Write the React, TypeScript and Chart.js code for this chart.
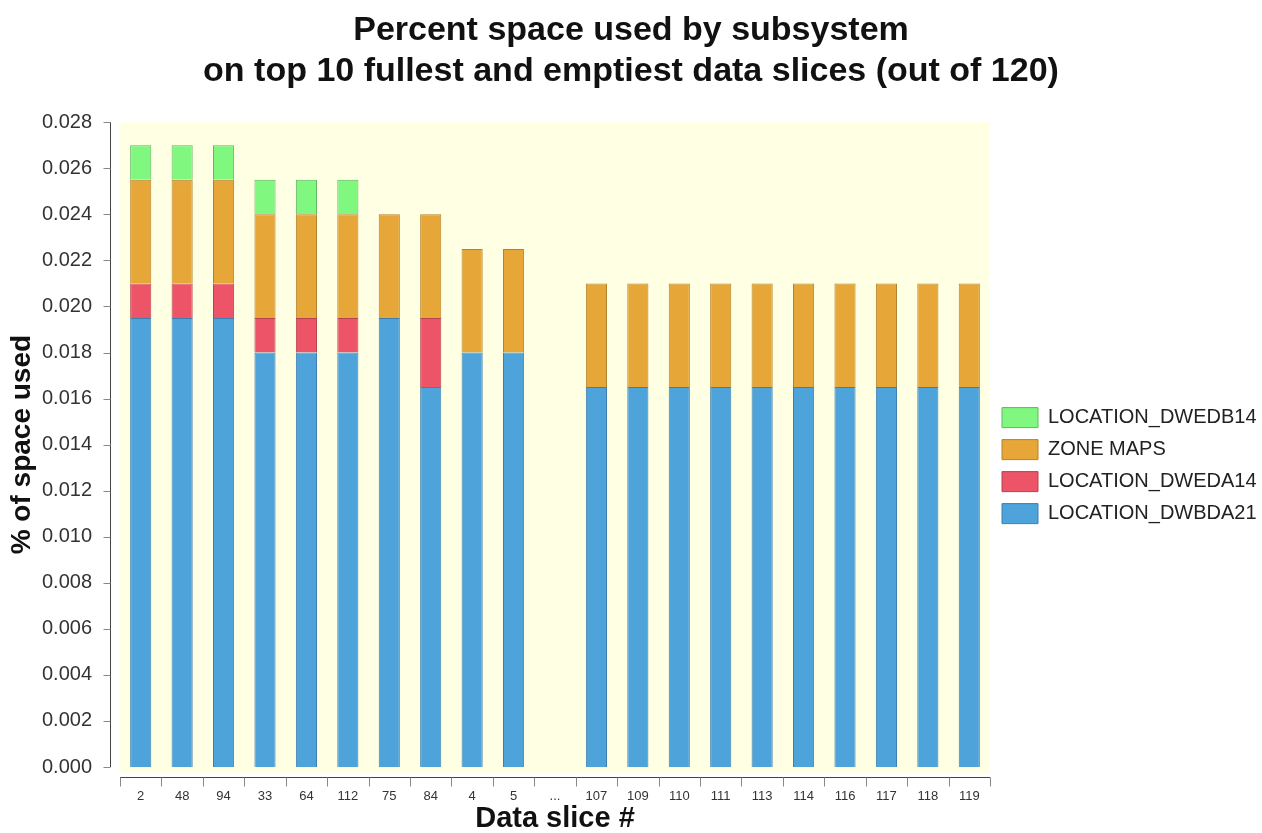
import React, { useEffect, useRef } from "react";
import { Chart, registerables } from "chart.js";

Chart.register(...registerables);

const titleLines = [
  "Percent space used by subsystem",
  "on top 10 fullest and emptiest data slices (out of 120)",
];

const categories = [
  "2", "48", "94", "33", "64", "112", "75", "84", "4", "5", "...",
  "107", "109", "110", "111", "113", "114", "116", "117", "118", "119",
];

const dwbda21 = [
  0.0195, 0.0195, 0.0195, 0.018, 0.018, 0.018, 0.0195, 0.0165, 0.018, 0.018, null,
  0.0165, 0.0165, 0.0165, 0.0165, 0.0165, 0.0165, 0.0165, 0.0165, 0.0165, 0.0165,
];
const dweda14 = [
  0.0015, 0.0015, 0.0015, 0.0015, 0.0015, 0.0015, null, 0.003, null, null, null,
  null, null, null, null, null, null, null, null, null, null,
];
const zoneMaps = [
  0.0045, 0.0045, 0.0045, 0.0045, 0.0045, 0.0045, 0.0045, 0.0045, 0.0045, 0.0045, null,
  0.0045, 0.0045, 0.0045, 0.0045, 0.0045, 0.0045, 0.0045, 0.0045, 0.0045, 0.0045,
];
const dwedb14 = [
  0.0015, 0.0015, 0.0015, 0.0015, 0.0015, 0.0015, null, null, null, null, null,
  null, null, null, null, null, null, null, null, null, null,
];

const yMin = 0;
const yMax = 0.028;
const yStep = 0.002;

const FONT = "'Liberation Sans', Arial, Helvetica, sans-serif";

const plotDecor = {
  id: "plotDecor",
  beforeDraw(chart: any) {
    const { ctx, chartArea } = chart;
    ctx.save();
    ctx.fillStyle = "#FFFFE3";
    ctx.fillRect(chartArea.left, chartArea.top, chartArea.right - chartArea.left, chartArea.bottom - chartArea.top + 7);
    ctx.restore();
  },
  afterDraw(chart: any) {
    const { ctx, chartArea, scales } = chart;
    ctx.save();
    ctx.strokeStyle = "#444";
    ctx.lineWidth = 1;
    const ax = Math.round(chartArea.left - 10) + 0.5;
    ctx.beginPath();
    ctx.moveTo(ax, chartArea.top);
    ctx.lineTo(ax, chartArea.bottom);
    ctx.stroke();
    ctx.strokeStyle = "#888";
    for (const t of scales.y.ticks) {
      const y = Math.round(scales.y.getPixelForValue(t.value)) + 0.5;
      ctx.beginPath();
      ctx.moveTo(ax - 7, y);
      ctx.lineTo(ax, y);
      ctx.stroke();
    }
    const ay = Math.round(chartArea.bottom + 10) + 0.5;
    ctx.strokeStyle = "#444";
    ctx.beginPath();
    ctx.moveTo(chartArea.left, ay);
    ctx.lineTo(chartArea.right, ay);
    ctx.stroke();
    ctx.strokeStyle = "#888";
    const n = categories.length;
    const w = (chartArea.right - chartArea.left) / n;
    for (let i = 0; i <= n; i++) {
      const x = Math.round(chartArea.left + i * w) + 0.5;
      ctx.beginPath();
      ctx.moveTo(x, ay);
      ctx.lineTo(x, ay + 9);
      ctx.stroke();
    }
    ctx.restore();
  },
};

export default function App() {
  const ref = useRef<HTMLCanvasElement | null>(null);

  useEffect(() => {
    if (!ref.current) return;
    const chart = new Chart(ref.current, {
      type: "bar",
      data: {
        labels: categories,
        datasets: [
          {
            label: "LOCATION_DWBDA21",
            data: dwbda21,
            backgroundColor: "#4DA3DA",
            borderColor: "#3C7FAE",
            borderWidth: 1,
          },
          {
            label: "LOCATION_DWEDA14",
            data: dweda14,
            backgroundColor: "#EE5468",
            borderColor: "#B8424F",
            borderWidth: 1,
          },
          {
            label: "ZONE MAPS",
            data: zoneMaps,
            backgroundColor: "#E6A738",
            borderColor: "#B3822C",
            borderWidth: 1,
          },
          {
            label: "LOCATION_DWEDB14",
            data: dwedb14,
            backgroundColor: "#80F880",
            borderColor: "#5FB85F",
            borderWidth: 1,
          },
        ],
      },
      options: {
        animation: false,
        responsive: true,
        maintainAspectRatio: false,
        layout: { padding: { left: 0, right: 0, top: 0, bottom: 0 } },
        datasets: {
          bar: { categoryPercentage: 1, barPercentage: 0.51 },
        },
        scales: {
          x: {
            stacked: true,
            afterFit: (s: any) => {
              s.height = 66;
            },
            grid: { display: false, drawTicks: false },
            border: { display: false },
            ticks: {
              padding: 22,
              color: "#333",
              font: { family: FONT, size: 13 },
              autoSkip: false,
              maxRotation: 0,
            },
            title: {
              display: true,
              text: "Data slice #",
              color: "#111",
              font: { family: FONT, size: 29, weight: "bold", lineHeight: 1.0 },
              padding: { top: 0, bottom: 0 },
            },
          },
          y: {
            stacked: true,
            min: yMin,
            max: yMax,
            afterFit: (s: any) => {
              s.width = 120;
            },
            grid: { display: false, drawTicks: false },
            border: { display: false },
            ticks: {
              stepSize: yStep,
              padding: 28,
              color: "#333",
              font: { family: FONT, size: 20 },
              callback: (v: any) => Number(v).toFixed(3),
            },
            title: {
              display: true,
              text: "% of space used",
              color: "#111",
              font: { family: FONT, size: 28, weight: "bold", lineHeight: 1.2 },
              padding: { top: 5, bottom: 0 },
            },
          },
        },
        plugins: {
          title: {
            display: true,
            text: titleLines,
            color: "#111",
            font: { family: FONT, size: 34, weight: "bold", lineHeight: 1.18 },
            padding: { top: 11, bottom: 31 },
          },
          legend: {
            position: "right",
            fullSize: false,
            reverse: true,
            maxWidth: 272,
            title: {
              display: true,
              text: " ",
              font: { family: FONT, size: 10 },
              padding: 15,
            },
            labels: {
              boxWidth: 36,
              boxHeight: 20,
              padding: 12,
              color: "#222",
              font: { family: FONT, size: 20 },
            },
          },
          tooltip: { enabled: false },
        },
      },
      plugins: [plotDecor],
    });
    return () => chart.destroy();
  }, []);

  return (
    <div style={{ position: "fixed", left: 0, top: 0, width: 1262, height: 833, background: "#fff" }}>
      <canvas ref={ref} />
    </div>
  );
}
